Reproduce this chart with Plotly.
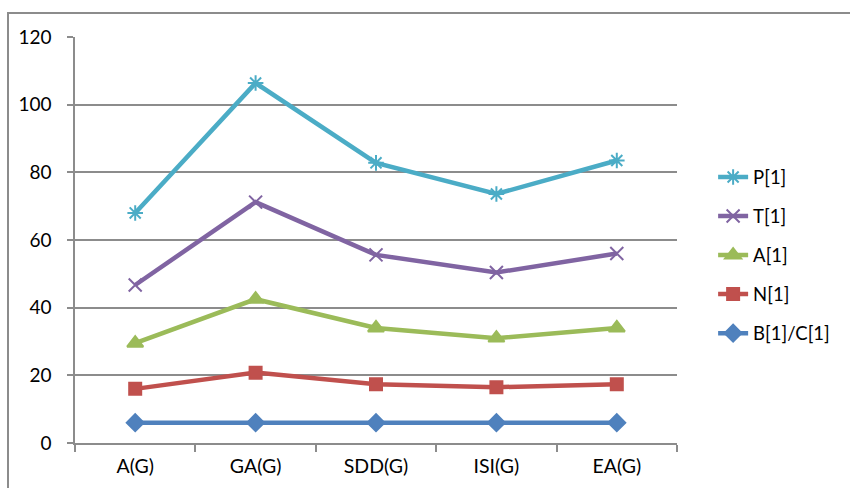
import plotly.graph_objects as go

categories = ["A(G)", "GA(G)", "SDD(G)", "ISI(G)", "EA(G)"]
p_vals = [68.0, 106.4, 82.8, 73.6, 83.5]
t_vals = [46.7, 71.2, 55.6, 50.4, 56.0]
a_vals = [29.5, 42.5, 34.0, 31.0, 34.0]
n_vals = [16.0, 20.8, 17.4, 16.5, 17.4]
b_vals = [6.0, 6.0, 6.0, 6.0, 6.0]

series = [
    ("P[1]", p_vals, "#4BACC6", "asterisk-open", 13),
    ("T[1]", t_vals, "#8064A2", "x-thin-open", 13),
    ("A[1]", a_vals, "#9BBB59", "triangle-up", 14),
    ("N[1]", n_vals, "#C0504D", "square", 12),
    ("B[1]/C[1]", b_vals, "#4F81BD", "diamond", 13),
]

fig = go.Figure()
for name, vals, color, symbol, size in series:
    fig.add_trace(go.Scatter(
        x=categories, y=vals, name=name, legendgroup=name,
        mode="lines+markers",
        line=dict(color=color, width=4.5),
        marker=dict(symbol=symbol, size=size, color=color,
                    line=dict(color=color, width=2)),
    ))

font_family = "Lato, Carlito, 'Open Sans', sans-serif"

fig.update_layout(
    width=850, height=488,
    margin=dict(l=75, r=173, t=37, b=45),
    paper_bgcolor="white", plot_bgcolor="white",
    font=dict(family=font_family, size=18.5, color="black"),
    legend=dict(
        x=1.06, y=0.462, xanchor="left", yanchor="middle",
        font=dict(size=18.5, color="black"),
        tracegroupgap=12, traceorder="grouped",
        bgcolor="rgba(0,0,0,0)",
    ),
    xaxis=dict(
        type="category", range=[-0.5, 4.5],
        showline=True, linecolor="#8C8C8C", linewidth=1.5,
        ticks="outside", ticklen=7, tickcolor="#8C8C8C", tickwidth=1.5,
        tickson="boundaries", showgrid=False, zeroline=False,
        ticklabelstandoff=5, tickfont=dict(size=19.5),
    ),
    yaxis=dict(
        range=[0, 120], tickvals=[0, 20, 40, 60, 80, 100, 120],
        showline=True, linecolor="#8C8C8C", linewidth=1.5,
        ticks="outside", ticklen=6, tickcolor="#8C8C8C", tickwidth=1.5,
        showgrid=True, gridcolor="#8C8C8C", gridwidth=1.5,
        zeroline=False, ticklabelstandoff=12, tickfont=dict(size=19),
    ),
    shapes=[dict(
        type="rect", xref="paper", yref="paper",
        x0=-0.1113, x1=1.5, y0=-0.5, y1=1.059,
        line=dict(color="#8C8C8C", width=2), layer="below",
    )],
)

fig.write_html("out.html")
